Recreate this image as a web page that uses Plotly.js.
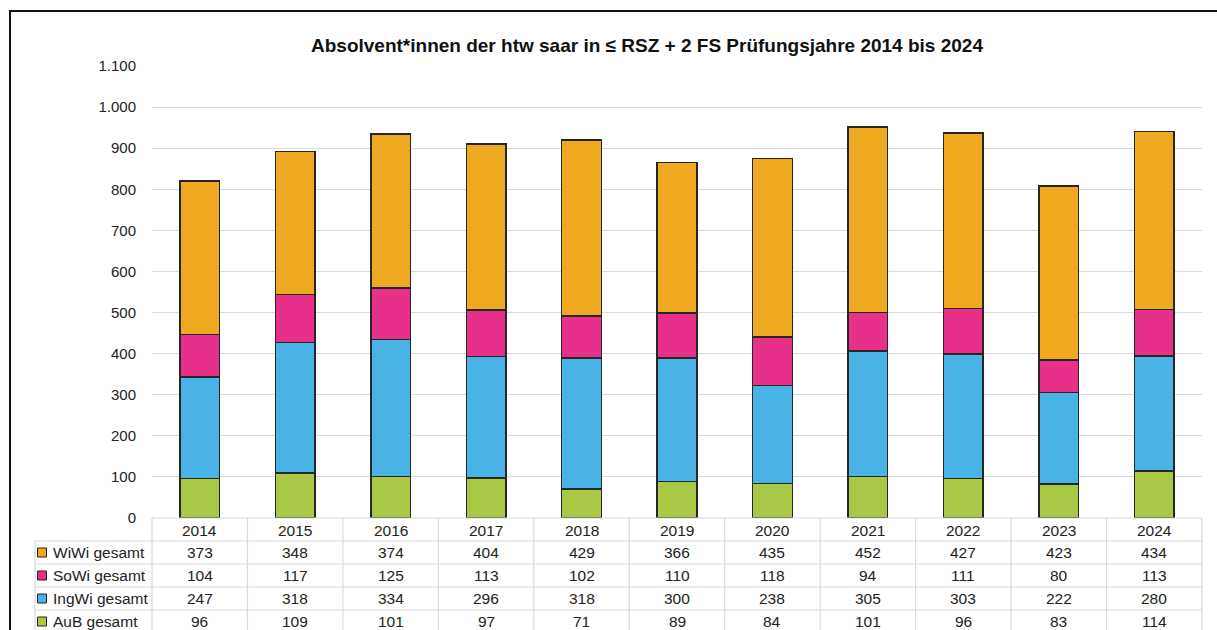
<!DOCTYPE html>
<html>
<head>
<meta charset="utf-8">
<script src="https://cdn.plot.ly/plotly-3.0.1.min.js"></script>
<style>html,body{margin:0;padding:0;background:#fff;}#chart{width:1217px;height:630px;}</style>
</head>
<body>
<div id="chart"></div>
<script>
const years = ['2014','2015','2016','2017','2018','2019','2020','2021','2022','2023','2024'];
const wiwi  = [373,348,374,404,429,366,435,452,427,423,434];
const sowi  = [104,117,125,113,102,110,118,94,111,80,113];
const ingwi = [247,318,334,296,318,300,238,305,303,222,280];
const aub   = [96,109,101,97,71,89,84,101,96,83,114];
const seriesNames = ['WiWi gesamt','SoWi gesamt','IngWi gesamt','AuB gesamt'];
const seriesColors = ['#EFA920','#E6308A','#4AB3E5','#A9C846'];
const titleText = 'Absolvent*innen der htw saar in ≤ RSZ + 2 FS Prüfungsjahre 2014 bis 2024';

const W = 1217, H = 630;
const L = 152, R = 1202, T = 66, B = 518;
const px = x => (x - L) / (R - L);
const py = y => (B - y) / (B - T);
const font = 'Arial, "Liberation Sans", sans-serif';

const tableRows = [wiwi, sowi, ingwi, aub];
const stackOrder = [3, 2, 1, 0];

const traces = stackOrder.map(i => ({
  type: 'bar', x: years, y: tableRows[i], name: seriesNames[i],
  marker: {color: seriesColors[i], line: {color: '#262626', width: 1.5}},
  hoverinfo: 'x+y+name'
}));

const rowTop = [518, 541, 564, 587, 610, 633];
const shapes = [];
const annotations = [];
const grey = '#d9d9d9';
const tfs = 15.5;

// outer frame
shapes.push({type:'rect', xref:'paper', yref:'paper', x0:px(10), x1:px(1240), y0:py(660), y1:py(11),
  line:{color:'#111', width:2}, fillcolor:'rgba(0,0,0,0)', layer:'below'});

// horizontal table lines
for (let r = 0; r < rowTop.length; r++) {
  const xs = r === 0 ? L : 35;
  shapes.push({type:'line', xref:'paper', yref:'paper', x0:px(xs), x1:px(R), y0:py(rowTop[r]), y1:py(rowTop[r]), line:{color:grey, width:1.2}});
}
// vertical lines
const colW = (R - L) / years.length;
for (let c = 0; c <= years.length; c++) {
  const x = L + c * colW;
  shapes.push({type:'line', xref:'paper', yref:'paper', x0:px(x), x1:px(x), y0:py(518), y1:py(640), line:{color:grey, width:1.2}});
}
shapes.push({type:'line', xref:'paper', yref:'paper', x0:px(35), x1:px(35), y0:py(541), y1:py(640), line:{color:grey, width:1.2}});

// header years
years.forEach((yr, c) => annotations.push({xref:'x', yref:'paper', x: c, y: py(530), text: yr, showarrow:false,
  font:{family:font, size:tfs, color:'#222'}, xanchor:'center', yanchor:'middle'}));

// data rows
tableRows.forEach((row, r) => {
  const ycPx = (rowTop[r+1] + rowTop[r+2]) / 2;
  const yc = py(ycPx);
  row.forEach((v, c) => annotations.push({xref:'x', yref:'paper', x: c, y: yc, text: String(v), showarrow:false,
    font:{family:font, size:tfs, color:'#222'}, xanchor:'center', yanchor:'middle'}));
  // legend key
  shapes.push({type:'rect', xref:'paper', yref:'paper', x0:px(37.5), x1:px(46.5), y0:py(ycPx + 4.5), y1:py(ycPx - 4.5),
    fillcolor: seriesColors[r], line:{color:'#222', width:1}});
  annotations.push({xref:'paper', yref:'paper', x: px(51), y: yc, text: seriesNames[r], showarrow:false,
    font:{family:font, size:tfs, color:'#222'}, xanchor:'left', yanchor:'middle'});
});

const layout = {
  width: W, height: H,
  margin: {l: L, r: W - R, t: T, b: H - B, pad: 0},
  paper_bgcolor: '#fff', plot_bgcolor: '#fff',
  separators: ',.',
  barmode: 'stack', bargap: 0.585,
  showlegend: false,
  title: {text: '<b>' + titleText + '</b>', xref:'container', yref:'container', x: 647/W, y: 1 - 45/H,
    xanchor:'center', yanchor:'middle', font:{family:font, size:19, color:'#111'}},
  xaxis: {type:'category', range:[-0.5, years.length - 0.5], showticklabels:false, showgrid:false, zeroline:false, showline:false, ticks:'', fixedrange:true},
  yaxis: {range:[0,1100], dtick:100, tickformat:',d', showgrid:true, gridcolor:grey, gridwidth:1.2,
    zeroline:false, showline:false, ticks:'outside', ticklen:12, tickcolor:'rgba(0,0,0,0)',
    tickfont:{family:font, size:15, color:'#222'}},
  shapes: shapes,
  annotations: annotations,
  hovermode: 'closest'
};

Plotly.newPlot('chart', traces, layout, {displayModeBar:false});
</script>
</body>
</html>
